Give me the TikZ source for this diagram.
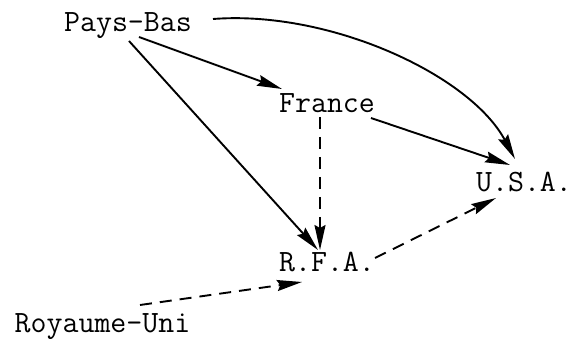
\documentclass[tikz,border=0pt]{standalone}
\usetikzlibrary{arrows.meta}
\begin{document}
\begin{tikzpicture}[x=1pt,y=-1pt,
  lbl/.style={anchor=base,inner sep=0pt,font=\ttfamily\fontsize{31}{31}\selectfont},
  arr/.style={line width=1.9pt,-{Stealth[length=25pt,width=11pt,inset=3pt]}},
  dsh/.style={arr,dash pattern=on 12pt off 8pt}]
\useasboundingbox (0,0) rectangle (571,339);
\node[lbl] (pb) at (128,32) {Pays-Bas};
\node[lbl] (fr) at (327,113) {France};
\node[lbl] (usa) at (524,192) {U.S.A.};
\node[lbl] (rfa) at (327,272) {R.F.A.};
\node[lbl] (ru) at (102.5,333) {Royaume-Uni};
\draw[arr] ([shift={(11,5)}]pb.base) -- ([shift={(-45,-24)}]fr.base);
\draw[arr] ([shift={(1,9)}]pb.base) -- ([shift={(-9,-22)}]rfa.base);
\draw[arr] ([shift={(85,-13)}]pb.base) .. controls +(117,-9) and +(-45,-84) .. ([shift={(-9,-33)}]usa.base);
\draw[arr] ([shift={(44,5)}]fr.base) -- ([shift={(-14,-27)}]usa.base);
\draw[dsh] ([shift={(-7,4)}]fr.base) -- ([shift={(-7,-22)}]rfa.base);
\draw[dsh] ([shift={(48,-14)}]rfa.base) -- ([shift={(-28,6)}]usa.base);
\draw[dsh] ([shift={(37.5,-28)}]ru.base) -- ([shift={(-25,10)}]rfa.base);
\end{tikzpicture}
\end{document}
